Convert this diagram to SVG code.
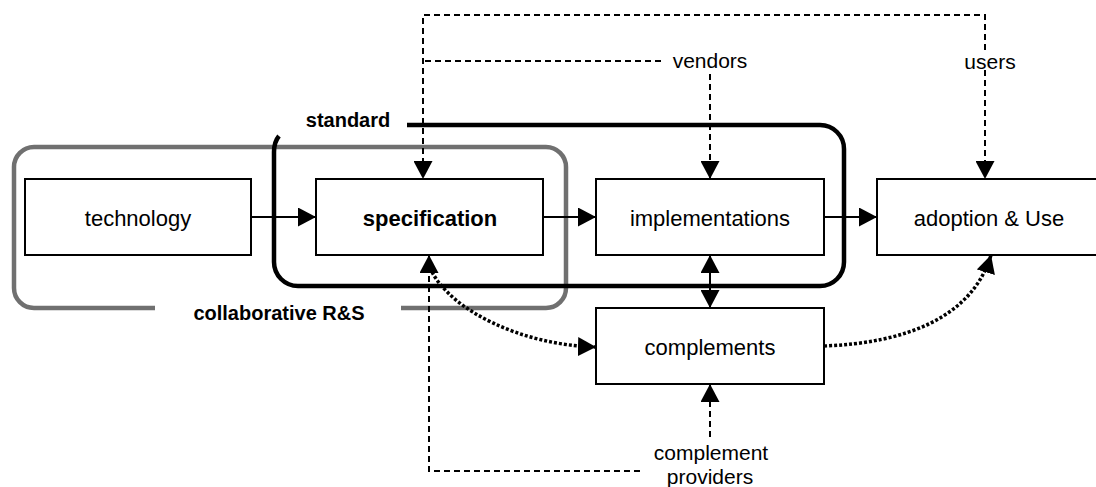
<svg xmlns="http://www.w3.org/2000/svg" width="1096" height="487" viewBox="0 0 1096 487">
<style>
  .box{fill:#fff;stroke:#000;stroke-width:2}
  .t{font-family:"Liberation Sans",Arial,sans-serif;font-size:22px;fill:#000;text-anchor:middle}
  .b{font-weight:bold}
  .lbl{font-family:"Liberation Sans",Arial,sans-serif;font-size:21px;fill:#000;text-anchor:middle}
  .grp{font-family:"Liberation Sans",Arial,sans-serif;font-size:20px;font-weight:bold;fill:#000;text-anchor:middle}
  .solid{fill:none;stroke:#000;stroke-width:2}
  .dash{fill:none;stroke:#000;stroke-width:2;stroke-dasharray:6 4}
  .dot{fill:none;stroke:#000;stroke-width:3.5;stroke-dasharray:3 2}
</style>
<defs>
  <marker id="ah" markerUnits="userSpaceOnUse" markerWidth="18" markerHeight="19" viewBox="0 0 18 19" refX="18" refY="9.5" orient="auto-start-reverse">
    <path d="M0,0 L18,9.5 L0,19 z" fill="#000"/>
  </marker>
</defs>
<rect width="1096" height="487" fill="#fff"/>

<g id="collaborative-rs">
  <path d="M401 308 L546 308 A20 20 0 0 0 566 288 L566 167 A20 20 0 0 0 546 147 L34 147 A20 20 0 0 0 14 167 L14 288 A20 20 0 0 0 34 308 L155 308" fill="none" stroke="#707070" stroke-width="4.5"/>
  <text class="grp" x="279" y="320">collaborative R&amp;S</text>
</g>

<g id="standard">
  <path d="M407 125 L820 125 A24 24 0 0 1 844 149 L844 262 A24 24 0 0 1 820 286 L298 286 A24 24 0 0 1 274 262 L274 152 Q274 142 279 136" fill="none" stroke="#000" stroke-width="4.5"/>
  <text class="grp" x="348" y="127">standard</text>
</g>

<g id="connectors">
  <line class="solid" x1="251" y1="217" x2="316" y2="217" marker-end="url(#ah)"/>
  <line class="solid" x1="543" y1="217" x2="596" y2="217" marker-end="url(#ah)"/>
  <line class="solid" x1="824" y1="217" x2="877" y2="217" marker-end="url(#ah)"/>
  <line class="solid" x1="710" y1="255" x2="710" y2="308" marker-start="url(#ah)" marker-end="url(#ah)"/>
  <path class="dash" d="M985 50 L985 15 L423 15 L423 179" marker-end="url(#ah)"/>
  <path class="dash" d="M985 70 L985 179" marker-end="url(#ah)"/>
  <path class="dash" d="M661 61 L423 61"/>
  <path class="dash" d="M710 74 L710 179" marker-end="url(#ah)"/>
  <path class="dash" d="M710 437 L710 384" marker-end="url(#ah)"/>
  <path class="dash" d="M640 471 L429 471 L429 255" marker-end="url(#ah)"/>
  <path class="dot" d="M432 272 C452 310 520 345 596 347" marker-end="url(#ah)"/>
  <path class="dot" d="M824 346 C905 343 972 318 991 255" marker-end="url(#ah)"/>
</g>

<g id="technology">
  <rect class="box" x="25" y="179" width="226" height="76"/>
  <text class="t" x="138" y="226">technology</text>
</g>
<g id="specification">
  <rect class="box" x="316" y="179" width="227" height="76"/>
  <text class="t b" x="430" y="226">specification</text>
</g>
<g id="implementations">
  <rect class="box" x="596" y="179" width="228" height="76"/>
  <text class="t" x="710" y="226">implementations</text>
</g>
<g id="adoption">
  <rect class="box" x="877" y="179" width="230" height="76"/>
  <text class="t" x="989" y="226">adoption &amp; Use</text>
</g>
<g id="complements">
  <rect class="box" x="596" y="308" width="228" height="76"/>
  <text class="t" x="710" y="355">complements</text>
</g>

<g id="labels">
  <text class="lbl" x="710" y="68">vendors</text>
  <text class="lbl" x="990" y="69">users</text>
  <text class="lbl" x="711" y="460">complement</text>
  <text class="lbl" x="710" y="484">providers</text>
</g>
</svg>
